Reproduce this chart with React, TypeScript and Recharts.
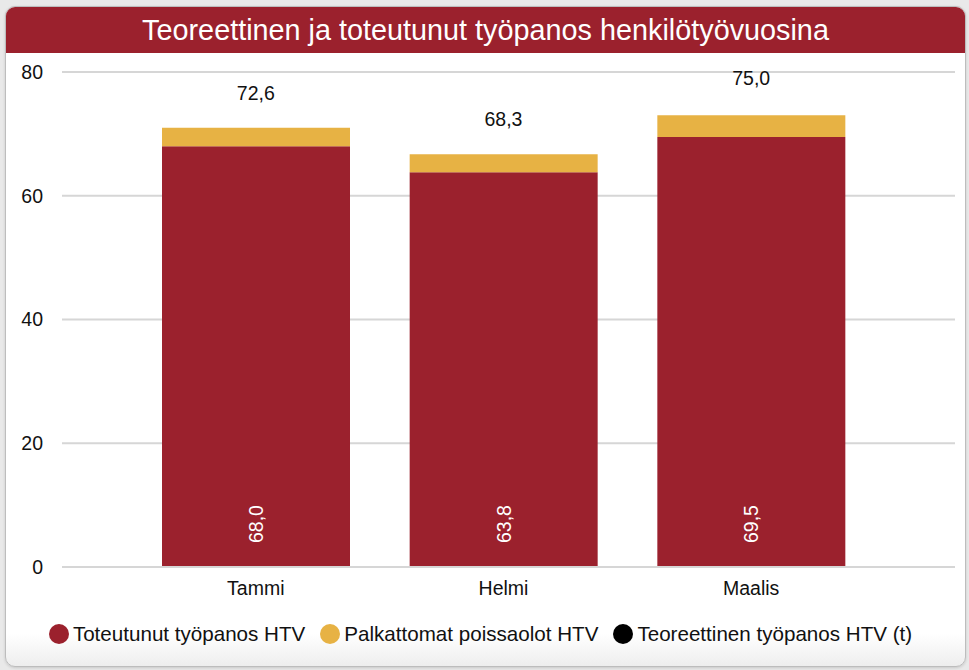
import React from 'react';
import { ComposedChart, Bar, Line, XAxis, YAxis, CartesianGrid, Legend, LabelList } from 'recharts';

const months = ['Tammi', 'Helmi', 'Maalis'];
const toteutunut = [68.0, 63.8, 69.5];
const palkattomat = [3.0, 2.9, 3.5];
const teoreettinen = [72.6, 68.3, 75.0];
const yTicks = [0, 20, 40, 60, 80];

const RED = '#9b212d';
const YELLOW = '#e7b244';
const FONT = '"Liberation Sans", Arial, sans-serif';

const data = months.map((m, i) => ({
  name: m,
  toteutunut: toteutunut[i],
  palkattomat: palkattomat[i],
  teoreettinen: teoreettinen[i],
}));

const fmt = (v: any) => Number(v).toFixed(1).replace('.', ',');

const legendItems = [
  { label: 'Toteutunut työpanos HTV', color: RED },
  { label: 'Palkattomat poissaolot HTV', color: YELLOW },
  { label: 'Teoreettinen työpanos HTV (t)', color: '#000000' },
];

const LegendContent = () => (
  <div style={{ display: 'flex', justifyContent: 'center', alignItems: 'center', height: 26, gap: 15 }}>
    {legendItems.map((it) => (
      <div key={it.label} style={{ display: 'flex', alignItems: 'center', gap: 4 }}>
        <span style={{ width: 20, height: 20, borderRadius: '50%', background: it.color, display: 'inline-block' }} />
        <span style={{ fontSize: 20.6, color: '#111', fontFamily: FONT }}>{it.label}</span>
      </div>
    ))}
  </div>
);

// white rotated value near the bottom of the red bar
const InsideLabel = (props: any) => {
  const { x, y, width, height, value } = props;
  const cx = x + width / 2;
  const by = y + height - 24;
  return (
    <text
      x={cx}
      y={by}
      transform={`rotate(-90 ${cx} ${by})`}
      textAnchor="start"
      dominantBaseline="central"
      fill="#ffffff"
      fontSize={19.5}
      fontFamily={FONT}
    >
      {fmt(value)}
    </text>
  );
};

export default function App() {
  return (
    <div style={{ position: 'fixed', left: 0, top: 0, width: 969, height: 670, background: '#e9e9e9' }}>
      <div
        style={{
          position: 'absolute',
          left: 5,
          top: 6,
          width: 959,
          height: 659,
          border: '1px solid #bdbdbd',
          borderRadius: 10,
          overflow: 'hidden',
          background: 'linear-gradient(to bottom, #ffffff 0%, #ffffff 95%, #eeeeee 100%)',
          boxShadow: '0 1px 3px rgba(0,0,0,0.15)',
        }}
      >
        <div
          style={{
            height: 46,
            background: RED,
            color: '#ffffff',
            fontFamily: FONT,
            fontSize: 28.8,
            lineHeight: '46px',
            textAlign: 'center',
          }}
        >
          Teoreettinen ja toteutunut työpanos henkilötyövuosina
        </div>
        <ComposedChart
          width={959}
          height={613}
          data={data}
          margin={{ top: 19, right: 10, bottom: 43, left: 0 }}
          style={{ fontFamily: FONT }}
        >
          <CartesianGrid vertical={false} stroke="#d6d6d6" strokeWidth={2} />
          <XAxis
            dataKey="name"
            padding={{ left: 70, right: 80 }}
            axisLine={{ stroke: '#d6d6d6', strokeWidth: 2 }}
            tickLine={false}
            tick={{ fontSize: 19.5, fill: '#111' }}
            dy={6}
          />
          <YAxis
            width={56}
            domain={[0, 80]}
            ticks={yTicks}
            axisLine={false}
            tickLine={false}
            tickMargin={13}
            tick={{ fontSize: 19.5, fill: '#111' }}
          />
          <Legend verticalAlign="bottom" content={<LegendContent />} wrapperStyle={{ bottom: 19 }} />
          <Bar dataKey="toteutunut" stackId="a" fill={RED} barSize={188} isAnimationActive={false}>
            <LabelList dataKey="toteutunut" content={<InsideLabel />} />
          </Bar>
          <Bar dataKey="palkattomat" stackId="a" fill={YELLOW} barSize={188} isAnimationActive={false} />
          <Line dataKey="teoreettinen" stroke="none" dot={false} activeDot={false} isAnimationActive={false}>
            <LabelList
              dataKey="teoreettinen"
              position="top"
              offset={18}
              formatter={fmt}
              style={{ fontSize: 19.5, fill: '#111' }}
            />
          </Line>
        </ComposedChart>
      </div>
    </div>
  );
}
